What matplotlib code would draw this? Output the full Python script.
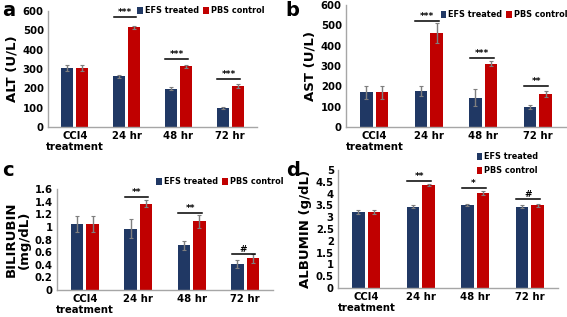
import matplotlib
matplotlib.use("Agg")
import matplotlib.pyplot as plt
import numpy as np
from matplotlib.ticker import FormatStrFormatter

plt.rcParams['font.family'] = ['DejaVu Sans']
plt.rcParams['font.weight'] = 'bold'

categories = ["CCl4\ntreatment", "24 hr", "48 hr", "72 hr"]
series_names = ["EFS treated", "PBS control"]

alt_efs = [305, 262, 198, 100]
alt_pbs = [305, 515, 313, 212]
alt_efs_err = [15, 8, 8, 5]
alt_pbs_err = [15, 8, 7, 8]
alt_sig = ["", "***", "***", "***"]
alt_sig_y = [None, 569, 352, 248]

ast_efs = [170, 178, 145, 100]
ast_pbs = [170, 462, 312, 163]
ast_efs_err = [33, 25, 40, 10]
ast_pbs_err = [33, 50, 12, 15]
ast_sig = ["", "***", "***", "**"]
ast_sig_y = [None, 521, 339, 202]

bil_efs = [1.05, 0.97, 0.71, 0.41]
bil_pbs = [1.05, 1.37, 1.09, 0.50]
bil_efs_err = [0.13, 0.15, 0.07, 0.06]
bil_pbs_err = [0.13, 0.05, 0.10, 0.07]
bil_sig = ["", "**", "**", "#"]
bil_sig_y = [None, 1.47, 1.22, 0.57]

alb_efs = [3.22, 3.45, 3.52, 3.45]
alb_pbs = [3.22, 4.37, 4.02, 3.50]
alb_efs_err = [0.07, 0.08, 0.06, 0.05]
alb_pbs_err = [0.07, 0.03, 0.10, 0.07]
alb_sig = ["", "**", "*", "#"]
alb_sig_y = [None, 4.53, 4.24, 3.77]

C_EFS = "#203864"
C_PBS = "#C00000"
C_ERR = "#7f7f7f"
C_AX = "#a6a6a6"

W, H = 567, 317
fig = plt.figure(figsize=(W/100, H/100), dpi=100)

def px_axes(l, r, t, b):
    return fig.add_axes([l/W, (H-b)/H, (r-l)/W, (b-t)/H])

def panel(ax, efs, pbs, efse, pbse, sig, sigy, ymax, ystep, ylabel, fmt,
          legend_loc, ncol, letter, letter_xy, ylab_size=9.5):
    x = np.arange(len(categories))
    bw = 0.23
    off = 0.145
    ax.bar(x - off, efs, bw, color=C_EFS, label=series_names[0], zorder=2)
    ax.bar(x + off, pbs, bw, color=C_PBS, label=series_names[1], zorder=2)
    ax.errorbar(x - off, efs, yerr=efse, fmt='none', ecolor=C_ERR, elinewidth=1,
                capsize=1.2, capthick=0.8, zorder=3)
    ax.errorbar(x + off, pbs, yerr=pbse, fmt='none', ecolor=C_ERR, elinewidth=1,
                capsize=1.2, capthick=0.8, zorder=3)
    for i, (s, yv) in enumerate(zip(sig, sigy)):
        if s:
            ax.plot([x[i] - 0.25, x[i] + 0.19], [yv, yv], color='black', lw=1.1,
                    zorder=4, clip_on=False)
            ax.text(x[i] - 0.03, yv + ymax * 0.003, s, ha='center', va='bottom',
                    fontsize=6.5, fontweight='bold', zorder=4)
    ax.set_xlim(-0.52, 3.52)
    ax.set_ylim(0, ymax)
    ax.set_yticks(np.arange(0, ymax + ystep / 2, ystep))
    ax.yaxis.set_major_formatter(FormatStrFormatter(fmt))
    ax.set_xticks(x)
    ax.set_xticklabels(categories, fontsize=7.3, fontweight='bold',
                       linespacing=1.05)
    ax.tick_params(axis='both', length=0, labelsize=7.3, pad=3)
    for lab in ax.get_yticklabels():
        lab.set_fontweight('bold')
    for sp in ['top', 'right']:
        ax.spines[sp].set_visible(False)
    for sp in ['left', 'bottom']:
        ax.spines[sp].set_color(C_AX)
        ax.spines[sp].set_linewidth(1)
    ax.set_ylabel(ylabel, fontsize=ylab_size, fontweight='bold', labelpad=3,
                  linespacing=1.0)
    ax.legend(loc='upper left', bbox_to_anchor=legend_loc, ncol=ncol, frameon=False,
              handlelength=0.7, handleheight=0.95, handletextpad=0.25,
              columnspacing=0.5, borderaxespad=0, borderpad=0,
              labelspacing=0.6, prop={'weight': 'bold', 'size': 5.9})
    fig.text(letter_xy[0]/W, 1 - letter_xy[1]/H, letter, fontsize=14,
             fontweight='bold', ha='left', va='center')

axa = px_axes(48, 257, 11, 127)
panel(axa, alt_efs, alt_pbs, alt_efs_err, alt_pbs_err, alt_sig, alt_sig_y,
      600, 100, "ALT (U/L)", "%g", (0.426, 1.04), 2, "a", (2, 11))

axb = px_axes(346, 566, 5, 127)
panel(axb, ast_efs, ast_pbs, ast_efs_err, ast_pbs_err, ast_sig, ast_sig_y,
      600, 100, "AST (U/L)", "%g", (0.43, 0.96), 2, "b", (285, 11))

axc = px_axes(57, 273, 189, 290)
panel(axc, bil_efs, bil_pbs, bil_efs_err, bil_pbs_err, bil_sig, bil_sig_y,
      1.6, 0.2, "BILIRUBIN\n(mg/dL)", "%g", (0.46, 1.12), 2, "c", (2, 170),
      ylab_size=9.5)

axd = px_axes(338, 558, 170, 288)
panel(axd, alb_efs, alb_pbs, alb_efs_err, alb_pbs_err, alb_sig, alb_sig_y,
      5, 0.5, "ALBUMIN (g/dL)", "%g", (0.63, 1.15), 1, "d", (286, 170),
      ylab_size=9.5)

fig.savefig("out.png", dpi=100)
